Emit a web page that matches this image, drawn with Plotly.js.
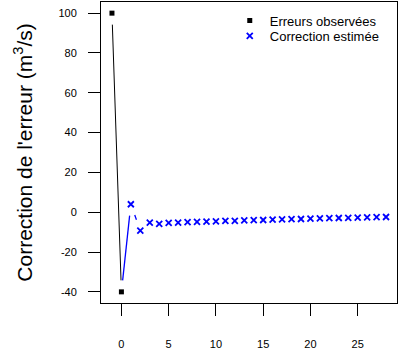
<!DOCTYPE html>
<html>
<head>
<meta charset="utf-8">
<script src="https://cdn.plot.ly/plotly-3.0.1.min.js"></script>
<style>html,body{margin:0;padding:0;background:#fff;}#chart{width:400px;height:354px;}</style>
</head>
<body>
<div id="chart"></div>
<script>
// Observed errors
const obsX = [-1, 0];
const obsY = [100, -40];
// Estimated correction (x = 0 shares the last observed point, no marker drawn there)
const corrX = [0, 1, 2, 3, 4, 5, 6, 7, 8, 9, 10, 11, 12, 13, 14, 15, 16, 17, 18, 19, 20, 21, 22, 23, 24, 25, 26, 27, 28];
const corrY = [-40, 4, -9.2, -5.2, -5.9, -5.4, -5.2, -5.0, -4.9, -4.7, -4.6, -4.4, -4.3, -4.1, -4.0, -3.9, -3.7, -3.6, -3.5, -3.4, -3.2, -3.1, -3.0, -2.9, -2.8, -2.7, -2.6, -2.5, -2.4];
const xTicks = [0, 5, 10, 15, 20, 25];
const yTicks = [-40, -20, 0, 20, 40, 60, 80, 100];
const legendNames = ["Erreurs observées", "Correction estimée"];

const W = 400, H = 354;
const M = {l: 101, r: 3, t: 2, b: 51};
const xRange = [-2.16, 29.16];
const yRange = [-45.6, 105.6];
const plotW = W - M.l - M.r, plotH = H - M.t - M.b;
const GAP = 11.5; // px gap around points (R type="b" style)

function gapLines(xs, ys) {
  const sx = plotW / (xRange[1] - xRange[0]);
  const sy = plotH / (yRange[1] - yRange[0]);
  const ox = [], oy = [];
  for (let i = 0; i < xs.length - 1; i++) {
    const dxp = (xs[i+1] - xs[i]) * sx, dyp = (ys[i+1] - ys[i]) * sy;
    const d = Math.hypot(dxp, dyp);
    if (d <= 2 * GAP) continue;
    const f = GAP / d;
    ox.push(xs[i] + (xs[i+1]-xs[i]) * f, xs[i+1] - (xs[i+1]-xs[i]) * f, null);
    oy.push(ys[i] + (ys[i+1]-ys[i]) * f, ys[i+1] - (ys[i+1]-ys[i]) * f, null);
  }
  return {x: ox, y: oy};
}

const obsLine = gapLines(obsX, obsY);
const corrLine = gapLines(corrX, corrY);

const FONT = 'Liberation Sans, Arial, sans-serif';

const traces = [
  {x: obsLine.x, y: obsLine.y, mode: 'lines', line: {color: '#000000', width: 1}, showlegend: false, hoverinfo: 'skip'},
  {x: corrLine.x, y: corrLine.y, mode: 'lines', line: {color: '#0000FF', width: 1.3}, showlegend: false, hoverinfo: 'skip'},
  {x: obsX, y: obsY, mode: 'markers', name: legendNames[0], legend: 'legend',
   marker: {symbol: 'square', size: 5, color: '#000000'}},
  {x: corrX.slice(1), y: corrY.slice(1), mode: 'markers', name: legendNames[1], legend: 'legend2',
   marker: {symbol: 'x-thin-open', size: 6, color: '#0000FF', line: {color: '#0000FF', width: 1.8}}}
];

const axisCommon = {
  showline: true, mirror: true, linecolor: '#000000', linewidth: 1,
  showgrid: false, zeroline: false,
  ticks: 'outside', ticklen: 12, tickwidth: 1, tickcolor: '#000000',
  tickfont: {family: FONT, size: 11, color: '#000000'},
  layer: 'above traces'
};

const legendCommon = {xanchor: 'left', yanchor: 'middle', bgcolor: 'rgba(0,0,0,0)', borderwidth: 0,
  font: {family: FONT, size: 13, color: '#000000'}};

const layout = {
  width: W, height: H,
  margin: M,
  paper_bgcolor: '#ffffff', plot_bgcolor: '#ffffff',
  showlegend: true,
  legend: Object.assign({}, legendCommon, {x: 0.435, y: 0.938}),
  legend2: Object.assign({}, legendCommon, {x: 0.435, y: 0.887}),
  xaxis: Object.assign({}, axisCommon, {range: xRange, tickvals: xTicks, ticktext: xTicks.map(String), ticklabelstandoff: 19}),
  yaxis: Object.assign({}, axisCommon, {range: yRange, tickvals: yTicks, ticktext: yTicks.map(String), ticklabelstandoff: 9,
    title: {text: "Correction de l'erreur (m<sup>3</sup>/s)", font: {family: FONT, size: 21, color: '#000000'}, standoff: 20}})
};

Plotly.newPlot('chart', traces, layout, {staticPlot: true, displayModeBar: false});
</script>
</body>
</html>
